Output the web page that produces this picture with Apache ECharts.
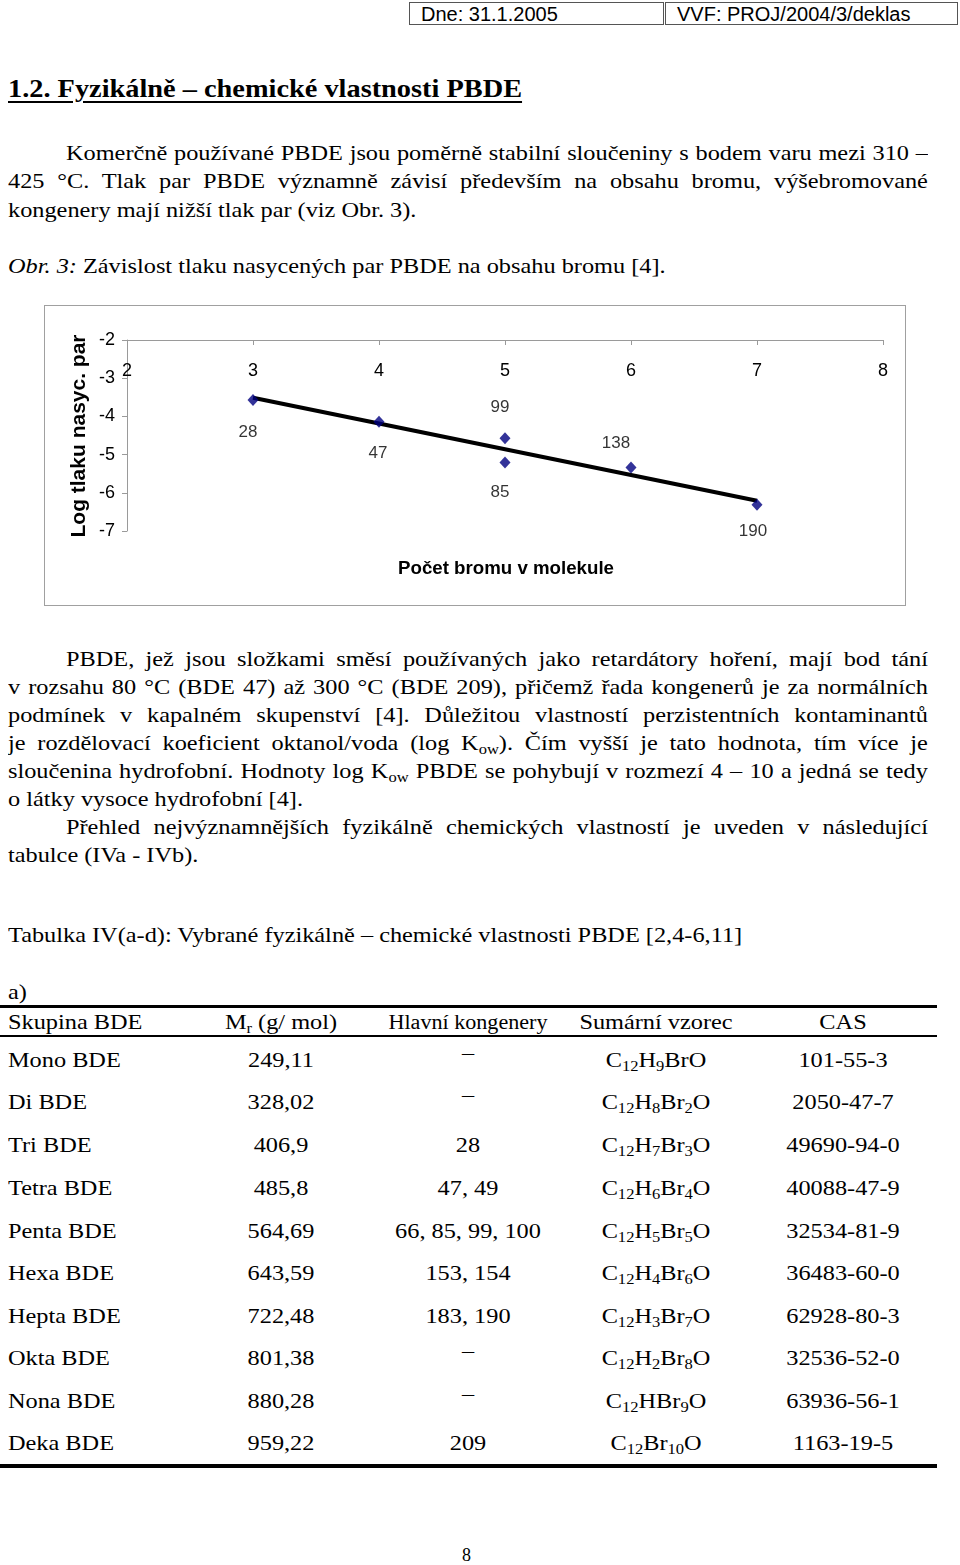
<!DOCTYPE html>
<html>
<head>
<meta charset="utf-8">
<script src="https://cdn.jsdelivr.net/npm/echarts@6/dist/echarts.min.js"></script>
<style>
  html, body { margin:0; padding:0; background:#fff; }
  body { width:960px; height:1565px; position:relative; overflow:hidden; font-family:"Liberation Serif","Times New Roman",serif; color:#000; }
  .abs { position:absolute; white-space:nowrap; }
  .line { position:absolute; font-size:22px; line-height:28px; height:28px; transform:scaleX(1.105); transform-origin:0 0; }
  .just { text-align:justify; text-align-last:justify; white-space:normal; overflow:hidden; }
  sub { font-size:0.68em; vertical-align:-0.3em; line-height:0; }
  .hdr { position:absolute; top:2px; height:23px; border:1px solid #555; font-family:"Liberation Sans",Arial,sans-serif; font-size:20px; line-height:23px; }
  .cell { position:absolute; font-size:22px; line-height:28px; white-space:nowrap; transform:translateX(-50%) scaleX(1.105); }
  .cellL { position:absolute; font-size:22px; line-height:28px; white-space:nowrap; transform:scaleX(1.105); transform-origin:0 0; }
  .hr { position:absolute; left:0; width:937px; background:#000; }
  #chart { position:absolute; left:44px; top:305px; width:862px; height:301px; border:1px solid #a0a0a0; box-sizing:border-box; }
</style>
</head>
<body>
<div class="hdr" style="left:409px;width:255px;padding-left:11px;box-sizing:border-box;">Dne: 31.1.2005</div>
<div class="hdr" style="left:665px;width:293px;padding-left:11px;box-sizing:border-box;">VVF: PROJ/2004/3/deklas</div>

<div class="abs" style="left:8px;top:74px;font-size:26px;font-weight:bold;text-decoration:underline;text-decoration-thickness:2px;text-underline-offset:4px;transform:scaleX(1.09);transform-origin:0 0;">1.2. Fyzikálně – chemické vlastnosti PBDE</div>

<div class="line just" style="left:66px;width:780px;top:139px;">Komerčně používané PBDE jsou poměrně stabilní sloučeniny s bodem varu mezi 310 –</div>
<div class="line just" style="left:8px;width:832.5px;top:167px;">425 °C. Tlak par PBDE významně závisí především na obsahu bromu, výšebromované</div>
<div class="line abs" style="left:8px;top:196px;">kongenery mají nižší tlak par (viz Obr. 3).</div>
<div class="line abs" style="left:8px;top:252px;"><i>Obr. 3:</i> Závislost tlaku nasycených par PBDE na obsahu bromu [4].</div>

<div id="chart"></div>

<div class="line just" style="left:66px;width:780px;top:645px;">PBDE, jež jsou složkami směsí používaných jako retardátory hoření, mají bod tání</div>
<div class="line just" style="left:8px;width:832.5px;top:673px;">v rozsahu 80 °C (BDE 47) až 300 °C (BDE 209), přičemž řada kongenerů je za normálních</div>
<div class="line just" style="left:8px;width:832.5px;top:701px;">podmínek v kapalném skupenství [4]. Důležitou vlastností perzistentních kontaminantů</div>
<div class="line just" style="left:8px;width:832.5px;top:729px;">je rozdělovací koeficient oktanol/voda (log K<sub>ow</sub>). Čím vyšší je tato hodnota, tím více je</div>
<div class="line just" style="left:8px;width:832.5px;top:757px;">sloučenina hydrofobní. Hodnoty log K<sub>ow</sub> PBDE se pohybují v rozmezí 4 – 10 a jedná se tedy</div>
<div class="line abs" style="left:8px;top:785px;">o látky vysoce hydrofobní [4].</div>
<div class="line just" style="left:66px;width:780px;top:813px;">Přehled nejvýznamnějších fyzikálně chemických vlastností je uveden v následující</div>
<div class="line abs" style="left:8px;top:841px;">tabulce (IVa - IVb).</div>

<div class="line abs" style="left:8px;top:921px;">Tabulka IV(a-d): Vybrané fyzikálně – chemické vlastnosti PBDE [2,4-6,11]</div>
<div class="line abs" style="left:8px;top:978px;">a)</div>

<div class="hr" style="top:1005px;height:3px;"></div>
<div class="hr" style="top:1035px;height:2px;"></div>
<div class="hr" style="top:1464px;height:4px;"></div>
<div id="table"></div>

<div class="abs" style="left:462px;top:1545px;font-size:18px;">8</div>

<script>
// ---- chart data ----
const xTickValues = [2, 3, 4, 5, 6, 7, 8];
const yTickValues = [-2, -3, -4, -5, -6, -7];
const bromineCount = [3, 4, 5, 5, 6, 7];
const logVaporPressure = [-3.57, -4.14, -4.57, -5.21, -5.34, -6.31];
const congenerNames = ['28', '47', '99', '85', '138', '190'];
const trendBromine = [3, 7];
const trendLogPressure = [-3.51, -6.21];
const yAxisTitle = 'Log tlaku nasyc. par';
const xAxisTitle = 'Počet bromu v molekule';

// ---- table data ----
const tableHeader = ['Skupina BDE', 'M<sub>r</sub> (g/ mol)', 'Hlavní kongenery', 'Sumární vzorec', 'CAS'];
const groups = ['Mono BDE','Di BDE','Tri BDE','Tetra BDE','Penta BDE','Hexa BDE','Hepta BDE','Okta BDE','Nona BDE','Deka BDE'];
const molarMass = ['249,11','328,02','406,9','485,8','564,69','643,59','722,48','801,38','880,28','959,22'];
const mainCongeners = ['–','–','28','47, 49','66, 85, 99, 100','153, 154','183, 190','–','–','209'];
const formulas = ['C<sub>12</sub>H<sub>9</sub>BrO','C<sub>12</sub>H<sub>8</sub>Br<sub>2</sub>O','C<sub>12</sub>H<sub>7</sub>Br<sub>3</sub>O','C<sub>12</sub>H<sub>6</sub>Br<sub>4</sub>O','C<sub>12</sub>H<sub>5</sub>Br<sub>5</sub>O','C<sub>12</sub>H<sub>4</sub>Br<sub>6</sub>O','C<sub>12</sub>H<sub>3</sub>Br<sub>7</sub>O','C<sub>12</sub>H<sub>2</sub>Br<sub>8</sub>O','C<sub>12</sub>HBr<sub>9</sub>O','C<sub>12</sub>Br<sub>10</sub>O'];
const casNumbers = ['101-55-3','2050-47-7','49690-94-0','40088-47-9','32534-81-9','36483-60-0','62928-80-3','32536-52-0','63936-56-1','1163-19-5'];

// ---- table layout ----
(function () {
  const colCenters = [null, 281, 468, 656, 843];
  const rowCenters = [1060, 1102, 1145, 1188, 1231, 1273, 1316, 1358, 1401, 1443];
  const t = document.getElementById('table');
  function add(html, cx, cy, extra) {
    const d = document.createElement('div');
    d.innerHTML = html;
    if (cx === null) { d.className = 'cellL'; d.style.left = '8px'; }
    else { d.className = 'cell'; d.style.left = cx + 'px'; }
    d.style.top = (cy - 14) + 'px';
    if (extra) Object.assign(d.style, extra);
    t.appendChild(d);
  }
  tableHeader.forEach((h, i) => add(h, colCenters[i], 1022, i === 2 ? { fontSize: '20px' } : null));
  const cols = [groups, molarMass, mainCongeners, formulas, casNumbers];
  rowCenters.forEach((cy, r) => {
    cols.forEach((col, c) => {
      const v = col[r];
      add(v, colCenters[c], v === '–' ? cy - 7 : cy, null);
    });
  });
})();

// ---- chart ----
const labelPlacement = [
  { position: 'bottom', distance: 18, offset: [-5, 0] },
  { position: 'bottom', distance: 17, offset: [-1, 0] },
  { position: 'top', distance: 16, offset: [-5, 0] },
  { position: 'bottom', distance: 15, offset: [-5, 0] },
  { position: 'top', distance: 10, offset: [-15, 0] },
  { position: 'bottom', distance: 12, offset: [-4, 0] }
];
const chart = echarts.init(document.getElementById('chart'), null, { renderer: 'canvas' });
const sans = '"Liberation Sans", Arial, sans-serif';
chart.setOption({
  animation: false,
  backgroundColor: '#fff',
  grid: { left: 82, right: 22, top: 34, bottom: 74, containLabel: false },
  xAxis: {
    type: 'value', position: 'top', min: 2, max: 8, interval: 1,
    axisLine: { show: true, onZero: false, lineStyle: { color: '#9a9a9a', width: 1 } },
    axisTick: { show: true, inside: true, length: 5, lineStyle: { color: '#9a9a9a' } },
    axisLabel: { inside: true, margin: 22, color: '#000', fontFamily: sans, fontSize: 18,
      formatter: v => (xTickValues.indexOf(v) >= 0 ? String(v) : '') },
    splitLine: { show: false }
  },
  yAxis: {
    type: 'value', min: -7, max: -2, interval: 1,
    axisLine: { show: true, onZero: false, lineStyle: { color: '#9a9a9a', width: 1 } },
    axisTick: { show: true, length: 5, lineStyle: { color: '#9a9a9a' } },
    axisLabel: { margin: 12, color: '#000', fontFamily: sans, fontSize: 18,
      formatter: v => (yTickValues.indexOf(v) >= 0 ? String(v) : '') },
    splitLine: { show: false }
  },
  graphic: [
    { type: 'text', x: 34, y: 130, rotation: Math.PI / 2, z: 10,
      style: { text: yAxisTitle, font: 'bold 21px ' + sans, fill: '#000', align: 'center', verticalAlign: 'middle' } },
    { type: 'text', x: 461, y: 263, z: 10,
      style: { text: xAxisTitle, font: 'bold 18.7px ' + sans, fill: '#000', align: 'center', verticalAlign: 'middle' } }
  ],
  series: [
    {
      type: 'line',
      data: trendBromine.map((x, i) => [x, trendLogPressure[i]]),
      showSymbol: false, symbol: 'none',
      lineStyle: { color: '#000', width: 4 },
      z: 2
    },
    {
      type: 'scatter',
      data: bromineCount.map((x, i) => ({
        value: [x, logVaporPressure[i]],
        name: congenerNames[i],
        label: labelPlacement[i]
      })),
      symbol: 'diamond', symbolSize: [11, 12],
      itemStyle: { color: '#000080' },
      label: { show: true, formatter: p => p.name, color: '#000', fontFamily: sans, fontSize: 17 },
      z: 3
    }
  ]
});
</script>
</body>
</html>
